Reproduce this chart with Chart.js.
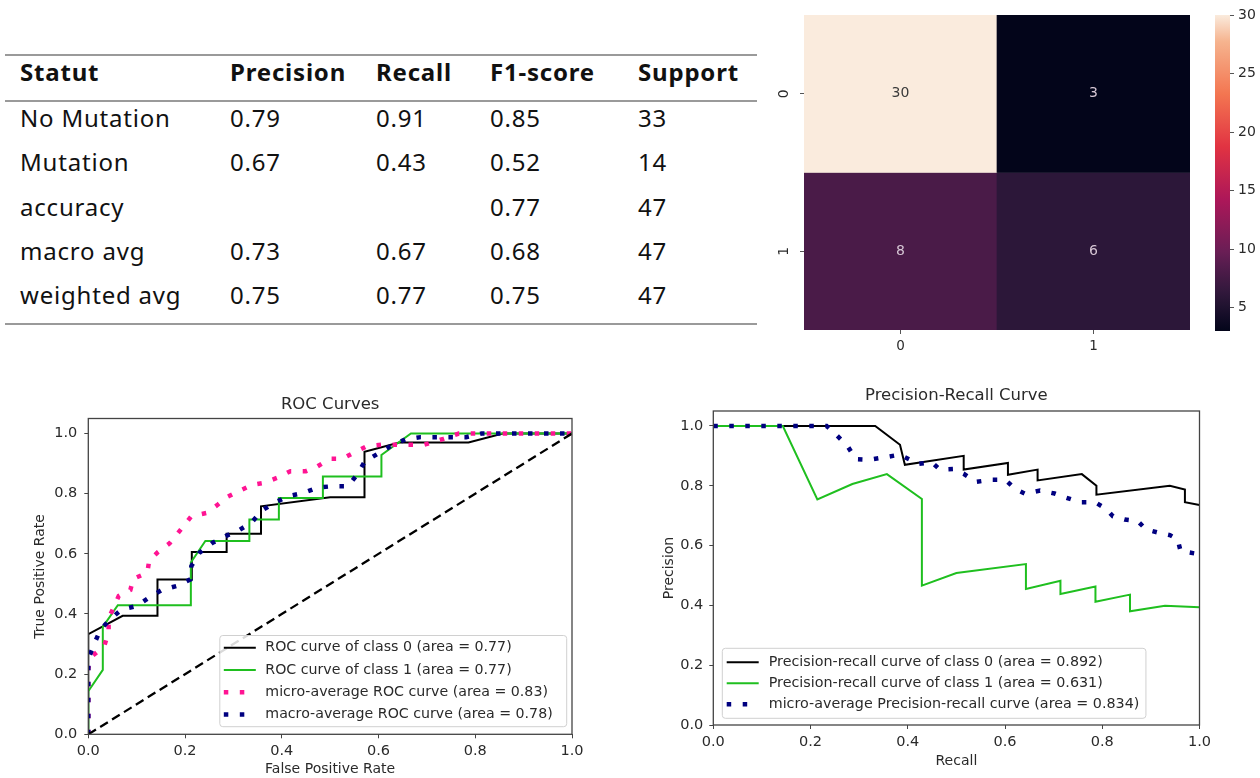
<!DOCTYPE html>
<html>
<head>
<meta charset="utf-8">
<script src="https://cdn.jsdelivr.net/npm/chart.js@4.4.0/dist/chart.umd.min.js"></script>
<style>
  body { margin: 0; background: #fff; width: 1260px; height: 778px; position: relative; overflow: hidden; }
  canvas { position: absolute; }
  .rule { position: absolute; left: 5px; width: 752px; height: 2px; background: #9a9a9a; }
  .cell { position: absolute; height: 32px; line-height: 32px; font-family: "Noto Sans", sans-serif;
          font-size: 24px; letter-spacing: 0.8px; color: #111; white-space: nowrap; }
  .head { font-weight: bold; }
</style>
</head>
<body>
<div id="report"></div>
<canvas id="cm"></canvas>
<canvas id="cbar"></canvas>
<canvas id="roc"></canvas>
<canvas id="pr"></canvas>
<script>
// ***************************************************************************************************
// Dados

// relatorio de classificacao
const REPORT_COLUMNS = ['Statut', 'Precision', 'Recall', 'F1-score', 'Support'];
const REPORT_CLASSES = ['No Mutation', 'Mutation', 'accuracy', 'macro avg', 'weighted avg'];
const REPORT_PRECISION = ['0.79', '0.67', '', '0.73', '0.75'];
const REPORT_RECALL = ['0.91', '0.43', '', '0.67', '0.77'];
const REPORT_F1 = ['0.85', '0.52', '0.77', '0.68', '0.75'];
const REPORT_SUPPORT = ['33', '14', '47', '47', '47'];

// matriz de confusao
const CM_LABELS = ['0', '1'];
const CM_COUNTS = [[30, 3], [8, 6]];
const CBAR_TICKS = [5, 10, 15, 20, 25, 30];

// curvas ROC
const AXIS_TICKS = [0, 0.2, 0.4, 0.6, 0.8, 1.0];
const ROC0_FPR = [0, 0, 0.071, 0.143, 0.143, 0.214, 0.214, 0.286, 0.286, 0.357, 0.357, 0.5, 0.571, 0.571, 0.643, 0.786, 0.857, 1];
const ROC0_TPR = [0, 0.333, 0.394, 0.394, 0.515, 0.515, 0.606, 0.606, 0.667, 0.667, 0.758, 0.788, 0.788, 0.939, 0.970, 0.970, 1, 1];
const ROC1_FPR = [0, 0, 0.030, 0.030, 0.061, 0.212, 0.212, 0.242, 0.333, 0.333, 0.394, 0.394, 0.485, 0.485, 0.606, 0.606, 0.667, 1];
const ROC1_TPR = [0, 0.143, 0.214, 0.357, 0.429, 0.429, 0.571, 0.643, 0.643, 0.714, 0.714, 0.786, 0.786, 0.857, 0.857, 0.929, 1, 1];
const MICRO_FPR = [0, 0, 0.008, 0.033, 0.042, 0.042, 0.063, 0.087, 0.093, 0.122, 0.126, 0.144, 0.168, 0.197, 0.213, 0.245, 0.268, 0.288, 0.316, 0.340, 0.363, 0.391, 0.418, 0.450, 0.474, 0.499, 0.525, 0.551, 0.576, 0.608, 0.631, 0.663, 0.695, 0.734, 0.766, 1];
const MICRO_TPR = [0, 0.22, 0.26, 0.293, 0.341, 0.385, 0.46, 0.48, 0.517, 0.537, 0.579, 0.606, 0.635, 0.692, 0.725, 0.736, 0.764, 0.79, 0.812, 0.83, 0.836, 0.853, 0.875, 0.875, 0.891, 0.916, 0.916, 0.938, 0.958, 0.963, 0.963, 0.963, 0.963, 0.982, 1.0, 1.0];
const MACRO_FPR = [0, 0, 0.012, 0.025, 0.046, 0.069, 0.099, 0.125, 0.152, 0.182, 0.211, 0.213, 0.23, 0.257, 0.284, 0.312, 0.338, 0.359, 0.385, 0.414, 0.446, 0.474, 0.505, 0.537, 0.556, 0.572, 0.6, 0.627, 0.655, 0.687, 0.781, 0.813, 1];
const MACRO_TPR = [0, 0.25, 0.30, 0.347, 0.384, 0.415, 0.426, 0.454, 0.48, 0.493, 0.515, 0.559, 0.604, 0.637, 0.659, 0.679, 0.705, 0.744, 0.77, 0.792, 0.803, 0.82, 0.825, 0.825, 0.864, 0.908, 0.934, 0.96, 0.98, 0.988, 0.988, 1.0, 1.0];
const CHANCE = [0, 1];
const ROC_LABELS = ['ROC curve of class 0 (area = 0.77)', 'ROC curve of class 1 (area = 0.77)',
                    'micro-average ROC curve (area = 0.83)', 'macro-average ROC curve (area = 0.78)'];

// curvas precision-recall
const PR0_REC = [0, 0.333, 0.384, 0.394, 0.515, 0.515, 0.606, 0.606, 0.667, 0.667, 0.758, 0.788, 0.788, 0.939, 0.970, 0.970, 1.0];
const PR0_PREC = [1, 1, 0.937, 0.87, 0.90, 0.854, 0.876, 0.837, 0.854, 0.818, 0.839, 0.80, 0.77, 0.80, 0.787, 0.745, 0.736];
const PR1_REC = [0, 0.143, 0.214, 0.286, 0.357, 0.429, 0.429, 0.5, 0.643, 0.643, 0.714, 0.714, 0.786, 0.786, 0.857, 0.857, 0.929, 1.0];
const PR1_PREC = [1, 1, 0.754, 0.806, 0.839, 0.756, 0.466, 0.508, 0.538, 0.455, 0.482, 0.438, 0.463, 0.412, 0.436, 0.38, 0.399, 0.394];
const MPR_REC = [0, 0.233, 0.253, 0.276, 0.293, 0.321, 0.352, 0.383, 0.405, 0.421, 0.45, 0.466, 0.495, 0.515, 0.54, 0.571, 0.601, 0.621, 0.642, 0.672, 0.702, 0.726, 0.754, 0.785, 0.808, 0.822, 0.846, 0.873, 0.89, 0.916, 0.939, 0.955, 0.961, 0.989, 1.0];
const MPR_PREC = [1, 1, 0.97, 0.933, 0.889, 0.887, 0.895, 0.904, 0.887, 0.873, 0.878, 0.854, 0.856, 0.84, 0.813, 0.82, 0.82, 0.789, 0.773, 0.784, 0.774, 0.76, 0.745, 0.745, 0.723, 0.698, 0.687, 0.682, 0.654, 0.643, 0.635, 0.621, 0.582, 0.574, 0.571];
const PR_LABELS = ['Precision-recall curve of class 0 (area = 0.892)', 'Precision-recall curve of class 1 (area = 0.631)',
                   'micro-average Precision-recall curve (area = 0.834)'];

// ***************************************************************************************************
// Estilos

const FONT = "'DejaVu Sans', sans-serif";
const INK = '#2a2a2a';
const GREEN = '#1fbf1f';
const PINK = '#ff1493';
const NAVY = '#000080';
const DOTS = [4.5, 11.5];

// paleta "rocket" do seaborn (aproximada)
const ROCKET = [[0, 3, 5, 26], [0.111, 44, 23, 57], [0.185, 74, 27, 72], [0.25, 105, 30, 85], [0.417, 173, 23, 89],
                [0.583, 225, 51, 66], [0.75, 243, 118, 81], [0.917, 246, 180, 143], [1, 250, 235, 221]];

function rocket(t) {
    t = Math.max(0, Math.min(1, t));
    for (let i = 1; i < ROCKET.length; i++) {
        const a = ROCKET[i - 1], b = ROCKET[i];
        if (t <= b[0]) {
            const f = (t - a[0]) / (b[0] - a[0]);
            const c = [1, 2, 3].map(k => Math.round(a[k] + (b[k] - a[k]) * f));
            return 'rgb(' + c.join(',') + ')';
        }
    }
    return 'rgb(250,235,221)';
}

function place(id, left, top, w, h) {
    const c = document.getElementById(id);
    c.width = w; c.height = h;
    c.style.left = left + 'px'; c.style.top = top + 'px';
    c.style.width = w + 'px'; c.style.height = h + 'px';
    return c;
}

function xy(xs, ys) {
    return xs.map((x, i) => ({ x: x, y: ys[i] }));
}

// ***************************************************************************************************
// Tabela

function buildReport() {
    const host = document.getElementById('report');
    const colX = [20, 230, 376, 490, 638];
    const rowY = [118, 162, 207, 251, 295];
    let html = '';
    [55, 101, 324].forEach(y => { html += "<div class='rule' style='top:" + (y - 1) + "px'></div>"; });
    REPORT_COLUMNS.forEach((t, c) => {
        html += "<div class='cell head' style='left:" + colX[c] + "px;top:" + (72 - 16) + "px'>" + t + "</div>";
    });
    REPORT_CLASSES.forEach((name, r) => {
        const vals = [name, REPORT_PRECISION[r], REPORT_RECALL[r], REPORT_F1[r], REPORT_SUPPORT[r]];
        vals.forEach((v, c) => {
            html += "<div class='cell' style='left:" + colX[c] + "px;top:" + (rowY[r] - 16) + "px'>" + v + "</div>";
        });
    });
    host.innerHTML = html;
}

buildReport();

// ***************************************************************************************************
// Plugins

// moldura completa + titulo centrado na area do grafico
const framePlugin = {
    id: 'frame',
    afterDatasetsDraw(chart, args, o) {
        const { ctx, chartArea: a } = chart;
        ctx.save();
        if (o.box) {
            ctx.strokeStyle = '#444';
            ctx.lineWidth = 1.3;
            ctx.strokeRect(a.left, a.top, a.right - a.left, a.bottom - a.top);
        }
        if (o.title) {
            ctx.font = o.titleSize + 'px ' + FONT;
            ctx.fillStyle = INK;
            ctx.textAlign = 'center';
            ctx.textBaseline = 'middle';
            ctx.fillText(o.title, (a.left + a.right) / 2, o.titleY);
        }
        ctx.restore();
    }
};

// legenda em caixa dentro da area do grafico (estilo matplotlib)
const boxLegend = {
    id: 'boxLegend',
    afterDraw(chart, args, o) {
        if (!o.display) return;
        const { ctx, chartArea: a } = chart;
        const items = chart.data.datasets.filter(d => d.label);
        ctx.save();
        ctx.font = o.fontSize + 'px ' + FONT;
        const tw = Math.max(...items.map(d => ctx.measureText(d.label).width));
        const w = o.padL + o.sample + o.gap + tw + o.padR;
        const h = o.padY * 2 + items.length * o.row;
        const x = o.corner === 'right' ? a.right - o.marginX - w : a.left + o.marginX;
        const y = a.bottom - o.marginY - h;
        ctx.fillStyle = 'rgba(255,255,255,0.85)';
        ctx.strokeStyle = '#d0d0d0';
        ctx.lineWidth = 1;
        ctx.beginPath();
        ctx.roundRect(x, y, w, h, 3);
        ctx.fill();
        ctx.stroke();
        items.forEach((d, i) => {
            const cy = y + o.padY + o.row * (i + 0.5);
            ctx.strokeStyle = d.borderColor;
            ctx.lineWidth = d.borderWidth;
            ctx.lineCap = 'butt';
            ctx.setLineDash(d.borderDash || []);
            ctx.beginPath();
            ctx.moveTo(x + o.padL, cy);
            ctx.lineTo(x + o.padL + o.sample, cy);
            ctx.stroke();
            ctx.setLineDash([]);
            ctx.fillStyle = INK;
            ctx.textAlign = 'left';
            ctx.textBaseline = 'middle';
            ctx.fillText(d.label, x + o.padL + o.sample + o.gap, cy);
        });
        ctx.restore();
    }
};

// valores dentro das celulas do heatmap + rotulos do eixo y girados
const cellText = {
    id: 'cellText',
    afterDatasetsDraw(chart, args, o) {
        const ctx = chart.ctx;
        ctx.save();
        ctx.font = o.fontSize + 'px ' + FONT;
        ctx.textAlign = 'center';
        ctx.textBaseline = 'middle';
        chart.data.datasets.forEach((ds, r) => {
            chart.getDatasetMeta(r).data.forEach((el, c) => {
                const v = CM_COUNTS[r][c];
                ctx.fillStyle = v > 20 ? '#3a3a3a' : '#d6c6d4';
                ctx.fillText(String(v), el.x, (el.y + el.base) / 2);
            });
        });
        const s = chart.scales.y;
        ctx.fillStyle = INK;
        CM_LABELS.forEach((lab, i) => {
            ctx.save();
            ctx.translate(o.yLabelX, s.getPixelForValue(i + 0.5));
            ctx.rotate(-Math.PI / 2);
            ctx.fillText(lab, 0, 0);
            ctx.restore();
        });
        ctx.restore();
    }
};

// ***************************************************************************************************
// Matriz de confusao

const cmMin = Math.min(...CM_COUNTS.flat());
const cmMax = Math.max(...CM_COUNTS.flat());

new Chart(place('cm', 760, 0, 440, 365), {
    type: 'bar',
    data: {
        labels: CM_LABELS,
        datasets: CM_LABELS.map((row, i) => ({
            data: CM_COUNTS[i].map(() => [i, i + 1]),
            backgroundColor: CM_COUNTS[i].map(v => rocket((v - cmMin) / (cmMax - cmMin))),
            borderWidth: 0,
            barPercentage: 1,
            categoryPercentage: 1,
            grouped: false
        }))
    },
    options: {
        responsive: false, animation: false, devicePixelRatio: 1,
        layout: { padding: { left: 0, right: 10, top: 15, bottom: 0 } },
        plugins: { legend: { display: false }, tooltip: { enabled: false }, cellText: { fontSize: 14, yLabelX: 24 } },
        scales: {
            x: {
                afterFit: s => { s.height = 35; },
                ticks: { font: { family: FONT, size: 13.5 }, color: INK, padding: 4.5 },
                grid: { offset: false, drawOnChartArea: false, drawTicks: true, tickLength: 4, color: '#555' },
                border: { display: false }
            },
            y: {
                type: 'linear', min: 0, max: 2, reverse: true,
                afterBuildTicks: s => { s.ticks = CM_LABELS.map((l, i) => ({ value: i + 0.5 })); },
                afterFit: s => { s.width = 44; },
                ticks: { display: false },
                grid: { drawOnChartArea: false, drawTicks: true, tickLength: 4, color: '#555' },
                border: { display: false }
            }
        }
    },
    plugins: [cellText]
});

// barra de cores
new Chart(place('cbar', 1200, 0, 60, 365), {
    type: 'bar',
    data: {
        labels: [''],
        datasets: [{
            data: [[cmMin, cmMax]],
            backgroundColor: c => {
                const a = c.chart.chartArea;
                if (!a) return '#000';
                const g = c.chart.ctx.createLinearGradient(0, a.bottom, 0, a.top);
                for (let k = 0; k <= 24; k++) g.addColorStop(k / 24, rocket(k / 24));
                return g;
            },
            borderWidth: 0, barPercentage: 1, categoryPercentage: 1
        }]
    },
    options: {
        responsive: false, animation: false, devicePixelRatio: 1,
        layout: { padding: { left: 15, right: 0, top: 15, bottom: 34 } },
        plugins: { legend: { display: false }, tooltip: { enabled: false } },
        scales: {
            x: { display: false },
            y: {
                position: 'right', min: cmMin, max: cmMax,
                afterBuildTicks: s => { s.ticks = CBAR_TICKS.map(v => ({ value: v })); },
                afterFit: s => { s.width = 30; },
                ticks: { font: { family: FONT, size: 14 }, color: INK, padding: 4 },
                grid: { drawOnChartArea: false, drawTicks: true, tickLength: 4, color: '#555' },
                border: { display: false }
            }
        }
    }
});

// ***************************************************************************************************
// Curvas

function curveScales(o) {
    const tickFont = { family: FONT, size: 14.5 };
    const grid = { drawOnChartArea: false, drawTicks: true, tickLength: 4, color: '#444' };
    return {
        x: {
            type: 'linear', min: 0, max: 1,
            afterBuildTicks: s => { s.ticks = AXIS_TICKS.map(v => ({ value: v })); },
            afterFit: s => { s.height = o.xHeight; },
            ticks: { font: tickFont, color: INK, padding: 4.3, maxRotation: 0, callback: v => Number(v).toFixed(1) },
            grid: grid,
            border: { display: false },
            title: { display: true, text: o.xTitle, color: INK, font: { family: FONT, size: 14 }, padding: { top: 0, bottom: o.xTitlePad } }
        },
        y: {
            type: 'linear', min: 0, max: 1.05,
            afterBuildTicks: s => { s.ticks = AXIS_TICKS.map(v => ({ value: v })); },
            afterFit: s => { s.width = o.yWidth; },
            ticks: { font: tickFont, color: INK, padding: o.yPad, callback: v => Number(v).toFixed(1) },
            grid: grid,
            border: { display: false },
            title: { display: true, text: o.yTitle, color: INK, font: { family: FONT, size: 14 }, padding: { top: o.yTitlePad, bottom: 0 } }
        }
    };
}

function curve(label, xs, ys, color, width, dash, order) {
    return {
        label: label,
        data: xy(xs, ys),
        borderColor: color,
        borderWidth: width,
        borderDash: dash,
        pointRadius: 0,
        tension: 0,
        fill: false,
        order: order
    };
}

new Chart(place('roc', 0, 380, 600, 398), {
    type: 'line',
    data: {
        datasets: [
            curve(ROC_LABELS[0], ROC0_FPR, ROC0_TPR, '#000', 2, [], 5),
            curve(ROC_LABELS[1], ROC1_FPR, ROC1_TPR, GREEN, 2, [], 4),
            curve(ROC_LABELS[2], MICRO_FPR, MICRO_TPR, PINK, 4.5, DOTS, 3),
            curve(ROC_LABELS[3], MACRO_FPR, MACRO_TPR, NAVY, 4.5, DOTS, 2),
            curve('', CHANCE, CHANCE, '#000', 2.3, [9, 5], 1)
        ]
    },
    options: {
        responsive: false, animation: false, devicePixelRatio: 1,
        layout: { padding: { left: 0, right: 28, top: 38.5, bottom: 0 } },
        plugins: {
            legend: { display: false }, tooltip: { enabled: false },
            frame: { box: true, title: 'ROC Curves', titleSize: 16.5, titleY: 24.5 },
            boxLegend: { display: true, corner: 'right', marginX: 5.3, marginY: 7.6, fontSize: 14.2,
                         padL: 4, sample: 32, gap: 9.5, padR: 14, padY: 1.2, row: 22.2 }
        },
        scales: curveScales({ xHeight: 43.7, xTitle: 'False Positive Rate', xTitlePad: 0,
                              yWidth: 88.3, yPad: 7, yTitle: 'True Positive Rate', yTitlePad: 31.5 })
    },
    plugins: [framePlugin, boxLegend]
});

new Chart(place('pr', 640, 380, 620, 398), {
    type: 'line',
    data: {
        datasets: [
            curve(PR_LABELS[0], PR0_REC, PR0_PREC, '#000', 2, [], 3),
            curve(PR_LABELS[1], PR1_REC, PR1_PREC, GREEN, 2, [], 2),
            curve(PR_LABELS[2], MPR_REC, MPR_PREC, NAVY, 4.5, DOTS, 1)
        ]
    },
    options: {
        responsive: false, animation: false, devicePixelRatio: 1,
        layout: { padding: { left: 0, right: 60.5, top: 31, bottom: 0 } },
        plugins: {
            legend: { display: false }, tooltip: { enabled: false },
            frame: { box: true, title: 'Precision-Recall Curve', titleSize: 16.5, titleY: 15.5 },
            boxLegend: { display: true, corner: 'left', marginX: 9, marginY: 6.7, fontSize: 14.3,
                         padL: 4.4, sample: 32, gap: 10, padR: 6.6, padY: 3.5, row: 21 }
        },
        scales: curveScales({ xHeight: 53, xTitle: 'Recall', xTitlePad: 8.6,
                              yWidth: 73.3, yPad: 6, yTitle: 'Precision', yTitlePad: 20.6 })
    },
    plugins: [framePlugin, boxLegend]
});
</script>
</body>
</html>
